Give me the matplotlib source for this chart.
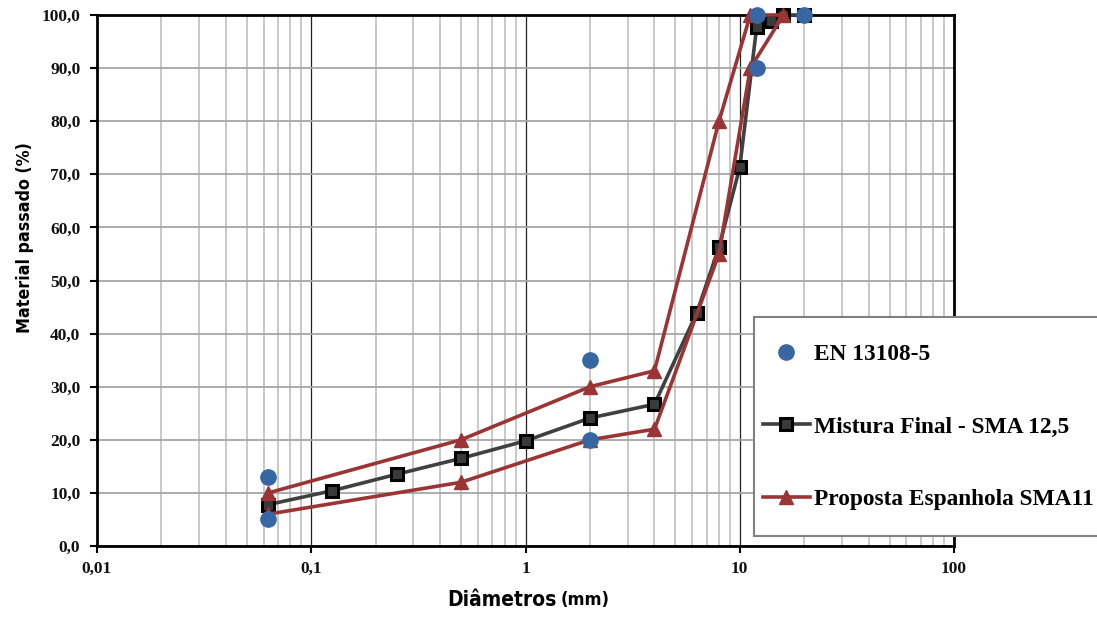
import matplotlib
matplotlib.use('Agg')
import matplotlib.pyplot as plt
from matplotlib.lines import Line2D
from matplotlib.patches import Rectangle
from matplotlib.ticker import FixedLocator, LogLocator, NullFormatter

# EN 13108-5 limits (points only)
en_d = [0.063, 0.063, 2, 2, 12, 12, 20]
en_p = [5, 13, 20, 35, 90, 100, 100]

# Mistura Final - SMA 12,5
mix_d = [0.063, 0.125, 0.25, 0.5, 1, 2, 4, 6.3, 8, 10, 12, 14, 16, 20]
mix_p = [7.8, 10.4, 13.5, 16.5, 19.8, 24.1, 26.7, 43.9, 56.3, 71.3, 97.8, 98.8, 100, 100]

# Proposta Espanhola SMA11 (envelope, upper then lower)
esp_d = [0.063, 0.5, 2, 4, 8, 11.2, 16, 11.2, 8, 4, 2, 0.5, 0.063]
esp_p = [10, 20, 30, 33, 80, 100, 100, 90, 55, 22, 20, 12, 6]

x_ticks = [0.01, 0.1, 1, 10, 100]
x_labels = ['0,01', '0,1', '1', '10', '100']
y_ticks = list(range(0, 101, 10))
y_labels = ['%d,0' % v for v in y_ticks]

serif = 'Liberation Serif'
blue = '#3767A2'
red = '#9B3434'
grey = '#404040'

fig = plt.figure(figsize=(10.97, 6.17), dpi=100)
ax = fig.add_axes([97/1097, 1-546/617, (954-97)/1097, (546-15)/617])

ax.set_xscale('log')
ax.set_xlim(0.01, 100)
ax.set_ylim(0, 100)

ax.xaxis.set_major_locator(FixedLocator(x_ticks))
ax.xaxis.set_minor_locator(LogLocator(base=10, subs=range(2, 10)))
ax.xaxis.set_minor_formatter(NullFormatter())
ax.set_xticks(x_ticks)
ax.set_xticklabels(x_labels, fontfamily=serif, fontweight='bold', fontsize=12.5)
ax.set_yticks(y_ticks)
ax.set_yticklabels(y_labels, fontfamily=serif, fontweight='bold', fontsize=12.5)

ax.grid(True, which='minor', axis='x', color='#BFBFBF', lw=1.2)
ax.grid(True, which='major', axis='x', color='#222222', lw=0.9)
ax.grid(True, which='major', axis='y', color='#A6A6A6', lw=1.3)
ax.set_axisbelow(True)

ax.tick_params(axis='both', which='major', direction='out', length=5, width=1.5,
               color='black', labelcolor='#111111')
ax.tick_params(axis='x', which='major', pad=6)
ax.tick_params(axis='y', which='major', pad=7)
ax.tick_params(axis='x', which='minor', length=0)
for s in ax.spines.values():
    s.set_linewidth(2)
    s.set_color('black')

ax.plot(mix_d, mix_p, color=grey, lw=2.6, marker='s', ms=9, mfc='#3a3a3a',
        mec='black', mew=2.2, zorder=5, clip_on=False)
ax.plot(esp_d, esp_p, color=red, lw=2.6, marker='^', ms=10, mfc=red,
        mec=red, zorder=6, clip_on=False)
ax.plot(en_d, en_p, ls='none', marker='o', ms=11, mfc=blue, mec=blue,
        zorder=7, clip_on=False)

lab_font = dict(fontfamily='DejaVu Sans', fontstretch='condensed', fontweight='bold')
ax.set_xlabel('Diâmetros', fontsize=15, **lab_font)
ax.xaxis.set_label_coords(0.472, -0.102)
ax.xaxis.label.set_va('center')
ax.annotate('(mm)', xy=(1, 0), xycoords=ax.xaxis.label, xytext=(3, 0.5),
            textcoords='offset points', ha='left', va='bottom',
            fontsize=13, **lab_font)
ax.set_ylabel('Material passado (%)', fontsize=12.8, **lab_font)
ax.yaxis.set_label_coords(-0.084, 0.58)
ax.yaxis.label.set_va('center')

# legend box
fig.patches.append(Rectangle((754/1097, 1-536/617), 400/1097, 219/617,
                             transform=fig.transFigure, facecolor='white',
                             edgecolor='#808080', lw=1.5, zorder=10))
handles = [
    Line2D([], [], ls='none', marker='o', ms=11, mfc=blue, mec=blue),
    Line2D([], [], color=grey, lw=2.6, marker='s', ms=9, mfc='#3a3a3a', mec='black', mew=2.2),
    Line2D([], [], color=red, lw=2.6, marker='^', ms=10, mfc=red, mec=red),
]
labels = ['EN 13108-5', 'Mistura Final - SMA 12,5', 'Proposta Espanhola SMA11']
leg = fig.legend(handles, labels, loc='upper left',
                 bbox_to_anchor=(763/1097, 1-344/617), frameon=False,
                 prop={'family': serif, 'weight': 'bold', 'size': 16.8},
                 handlelength=2.0, handletextpad=0.2, labelspacing=2.18,
                 borderpad=0, borderaxespad=0)
leg.set_zorder(11)

fig.savefig('out.png', dpi=100)
